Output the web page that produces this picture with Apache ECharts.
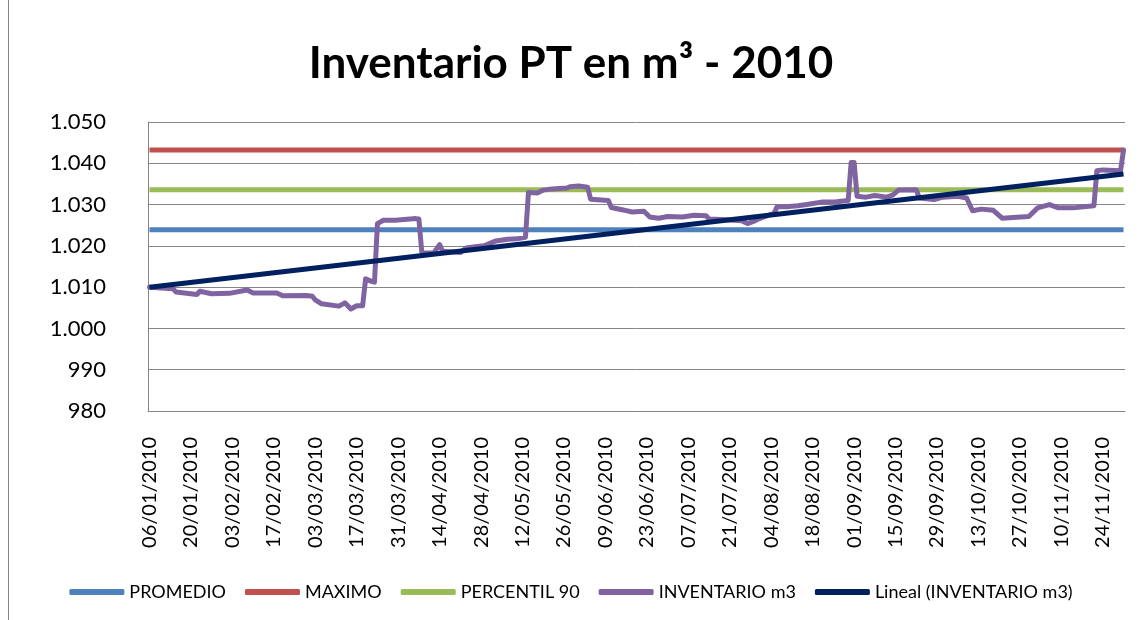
<!DOCTYPE html>
<html>
<head>
<meta charset="utf-8">
<script src="https://cdn.jsdelivr.net/npm/echarts@6/dist/echarts.min.js"></script>
<style>
    html, body { margin: 0; padding: 0; background: #fff; }
    #chart { width: 1142px; height: 620px; }
</style>
</head>
<body>
<div id="chart"></div>
<script>
// categorias: un dia por punto, del 06/01/2010 al 01/12/2010
const primerDia = [2010, 0, 6]
const totalDias = 330
const categorias = []
for (let i = 0; i < totalDias; i++) {
    const d = new Date(Date.UTC(primerDia[0], primerDia[1], primerDia[2] + i))
    const dd = String(d.getUTCDate()).padStart(2, '0')
    const mm = String(d.getUTCMonth() + 1).padStart(2, '0')
    categorias.push(dd + '/' + mm + '/' + d.getUTCFullYear())
}

// valores de referencia (m3)
const promedio = 1023.9
const maximo = 1043.2
const percentil90 = 1033.6

// inventario: fechas donde cambia la linea y su valor
const inventarioFechas = [
    '06/01/2010', '14/01/2010', '15/01/2010', '22/01/2010', '23/01/2010', '27/01/2010',
    '02/02/2010', '08/02/2010', '10/02/2010', '18/02/2010', '20/02/2010', '28/02/2010',
    '02/03/2010', '03/03/2010', '05/03/2010', '11/03/2010', '13/03/2010', '15/03/2010',
    '17/03/2010', '19/03/2010', '20/03/2010', '22/03/2010', '23/03/2010', '24/03/2010',
    '26/03/2010', '30/03/2010', '06/04/2010', '07/04/2010', '08/04/2010', '12/04/2010',
    '14/04/2010', '15/04/2010', '21/04/2010', '23/04/2010', '26/04/2010', '29/04/2010',
    '03/05/2010', '07/05/2010', '10/05/2010', '13/05/2010', '14/05/2010', '17/05/2010',
    '19/05/2010', '22/05/2010', '27/05/2010', '28/05/2010', '31/05/2010', '03/06/2010',
    '04/06/2010', '10/06/2010', '11/06/2010', '15/06/2010', '18/06/2010', '22/06/2010',
    '24/06/2010', '27/06/2010', '30/06/2010', '05/07/2010', '09/07/2010', '13/07/2010',
    '14/07/2010', '20/07/2010', '25/07/2010', '27/07/2010', '29/07/2010', '31/07/2010',
    '05/08/2010', '06/08/2010', '09/08/2010', '13/08/2010', '16/08/2010', '21/08/2010',
    '26/08/2010', '30/08/2010', '31/08/2010', '01/09/2010', '02/09/2010', '05/09/2010',
    '08/09/2010', '12/09/2010', '14/09/2010', '16/09/2010', '22/09/2010', '23/09/2010',
    '28/09/2010', '01/10/2010', '06/10/2010', '09/10/2010', '11/10/2010', '14/10/2010',
    '18/10/2010', '21/10/2010', '26/10/2010', '30/10/2010', '02/11/2010', '06/11/2010',
    '09/11/2010', '14/11/2010', '21/11/2010', '22/11/2010', '24/11/2010', '30/11/2010',
    '01/12/2010'
]
const inventarioValores = [
    1010.0, 1009.6, 1008.8, 1008.2, 1009.0, 1008.4,
    1008.5, 1009.3, 1008.6, 1008.6, 1007.9, 1008.0,
    1007.8, 1006.9, 1006.0, 1005.4, 1006.2, 1004.7,
    1005.5, 1005.5, 1012.0, 1011.4, 1011.2, 1025.4,
    1026.2, 1026.2, 1026.6, 1026.5, 1018.3, 1018.3,
    1020.3, 1018.7, 1018.4, 1019.5, 1019.8, 1020.0,
    1021.2, 1021.6, 1021.7, 1022.1, 1032.9, 1032.8,
    1033.5, 1033.8, 1034.0, 1034.3, 1034.5, 1034.2,
    1031.3, 1031.0, 1029.3, 1028.7, 1028.2, 1028.4,
    1027.0, 1026.7, 1027.1, 1027.0, 1027.4, 1027.3,
    1026.5, 1026.3, 1026.1, 1025.4, 1025.9, 1026.6,
    1027.9, 1029.5, 1029.5, 1029.7, 1030.0, 1030.6,
    1030.7, 1031.0, 1040.2, 1040.2, 1032.0, 1031.8,
    1032.2, 1031.8, 1032.3, 1033.5, 1033.6, 1031.6,
    1031.2, 1031.8, 1032.0, 1031.6, 1028.5, 1028.9,
    1028.6, 1026.7, 1026.9, 1027.1, 1029.2, 1030.0,
    1029.2, 1029.2, 1029.7, 1038.2, 1038.4, 1038.2,
    1043.2
]

// tendencia lineal: inicio y fin
const tendencia = [1010.0, 1037.4]

const ultimo = categorias.length - 1
const horizontal = (v) => [[0, v], [ultimo, v]]
const fuente = 'Lato'

const chart = echarts.init(document.getElementById('chart'))

const option = {
    animation: false,
    backgroundColor: '#fff',
    title: {
        text: 'Inventario PT en m³ - 2010',
        left: 'center',
        top: 37,
        textStyle: {
            fontFamily: fuente,
            fontSize: 44,
            fontWeight: 'bold',
            color: '#000'
        }
    },
    legend: {
        left: 'center',
        top: 578,
        itemGap: 19,
        itemWidth: 55,
        itemHeight: 6,
        icon: 'roundRect',
        textStyle: {
            fontFamily: fuente,
            fontSize: 18,
            color: '#000'
        },
        data: ['PROMEDIO', 'MAXIMO', 'PERCENTIL 90', 'INVENTARIO m3', 'Lineal (INVENTARIO m3)']
    },
    grid: {
        left: 148,
        right: 17,
        top: 122,
        bottom: 209
    },
    xAxis: {
        type: 'category',
        data: categorias,
        boundaryGap: true,
        axisLine: { lineStyle: { color: '#868686', width: 1 } },
        axisTick: { show: false },
        axisLabel: {
            interval: 13,
            rotate: 90,
            margin: 26,
            fontFamily: fuente,
            fontSize: 20,
            color: '#000'
        }
    },
    yAxis: {
        type: 'value',
        min: 980,
        max: 1050,
        interval: 10,
        axisLine: { show: true, lineStyle: { color: '#868686', width: 1 } },
        axisTick: { show: false },
        splitLine: { lineStyle: { color: '#868686', width: 1 } },
        axisLabel: {
            margin: 42,
            fontFamily: fuente,
            fontSize: 22,
            color: '#000',
            formatter: (v) => v >= 1000
                ? Math.floor(v / 1000) + '.' + String(v % 1000).padStart(3, '0')
                : String(v)
        }
    },
    series: [
        {
            name: 'PROMEDIO',
            type: 'line',
            symbol: 'none',
            color: '#4F81BD',
            lineStyle: { width: 5 },
            data: horizontal(promedio)
        },
        {
            name: 'MAXIMO',
            type: 'line',
            symbol: 'none',
            color: '#C0504D',
            lineStyle: { width: 5 },
            data: horizontal(maximo)
        },
        {
            name: 'PERCENTIL 90',
            type: 'line',
            symbol: 'none',
            color: '#9BBB59',
            lineStyle: { width: 5 },
            data: horizontal(percentil90)
        },
        {
            name: 'INVENTARIO m3',
            type: 'line',
            symbol: 'none',
            color: '#8064A2',
            lineStyle: { width: 5, join: 'round', cap: 'round' },
            data: inventarioFechas.map((f, i) => [categorias.indexOf(f), inventarioValores[i]])
        },
        {
            name: 'Lineal (INVENTARIO m3)',
            type: 'line',
            symbol: 'none',
            color: '#002060',
            lineStyle: { width: 5 },
            data: [[0, tendencia[0]], [ultimo, tendencia[1]]]
        }
    ],
    graphic: [
        {
            type: 'rect',
            silent: true,
            shape: { x: 8.5, y: -10, width: 1200, height: 700 },
            style: { fill: 'none', stroke: '#868686', lineWidth: 1 }
        }
    ]
}
chart.setOption(option)

window.addEventListener('resize', () => {
    chart && chart.resize()
})
</script>
</body>
</html>
